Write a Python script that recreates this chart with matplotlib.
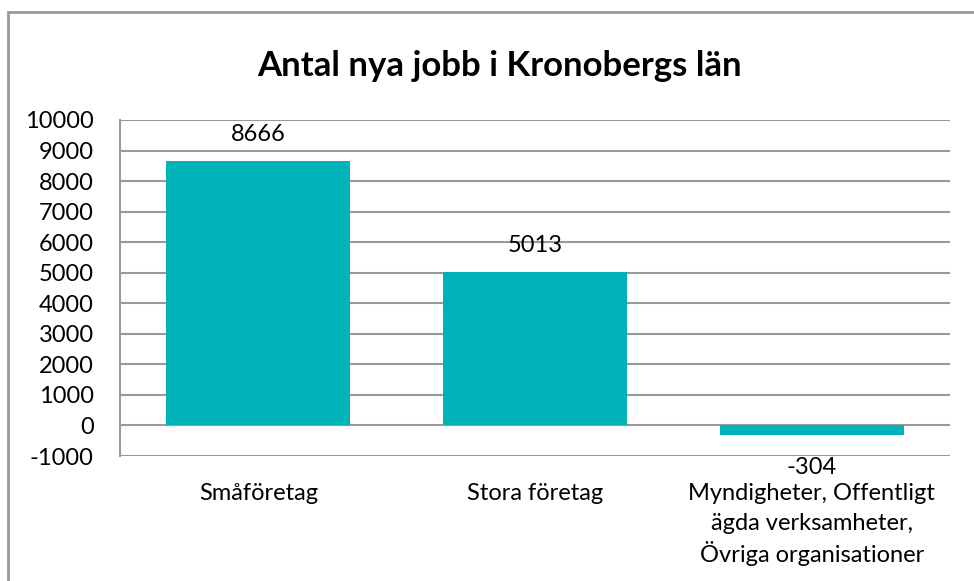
import numpy as np
import matplotlib
matplotlib.use("Agg")
import matplotlib.pyplot as plt
from matplotlib.patches import Rectangle

plt.rcParams['font.family'] = ['Lato', 'DejaVu Sans']
plt.rcParams['axes.unicode_minus'] = False

# data
categories = ["Småföretag", "Stora företag",
              "Myndigheter, Offentligt\nägda verksamheter,\nÖvriga organisationer"]
values = [8666, 5013, -304]
title = "Antal nya jobb i Kronobergs län"

bar_color = "#00B3B8"
grid_color = "#999999"

fig = plt.figure(figsize=(9.74, 5.81), dpi=100)
ax = fig.add_axes([0.1232, 0.2151, 0.8522, 0.5784])

x = np.arange(len(categories))
ax.bar(x, values, width=0.665, color=bar_color, zorder=2)

ax.set_xlim(-0.5, len(categories) - 0.5)
ax.set_ylim(-1000, 10000)
ax.set_yticks(np.arange(-1000, 10001, 1000))
ax.tick_params(axis='y', length=0, labelsize=17, pad=19)
ax.tick_params(axis='x', length=0)
ax.set_xticks([])
ax.grid(axis='y', color=grid_color, linewidth=1.5, zorder=1)
ax.set_axisbelow(True)
for s in ['top', 'right', 'bottom']:
    ax.spines[s].set_visible(False)
ax.spines['left'].set_color(grid_color)
ax.spines['left'].set_linewidth(1.5)

# value labels
for xi, v in zip(x, values):
    if v >= 0:
        ax.annotate(str(v), (xi, v), xytext=(0, 19), textcoords='offset points',
                    ha='center', va='center', fontsize=17)
    else:
        ax.annotate(str(v), (xi, -1000), xytext=(0, -8), textcoords='offset points',
                    ha='center', va='center', fontsize=17)

# category labels, one line at a time so spacing is even
for xi, c in zip(x, categories):
    for i, line in enumerate(c.split("\n")):
        ax.annotate(line, (xi, -1000), xytext=(0, -27 - 21.6 * i), textcoords='offset points',
                    ha='center', va='center', fontsize=17)

fig.text(0.513, 0.886, title, ha='center', va='center', fontsize=25, fontweight='bold')

# outer frame
fig.patches.append(Rectangle((0.0082, -0.1), 1.2, 1.0793, transform=fig.transFigure,
                             fill=False, edgecolor='#999999', linewidth=2))

fig.savefig("out.png", dpi=100)
